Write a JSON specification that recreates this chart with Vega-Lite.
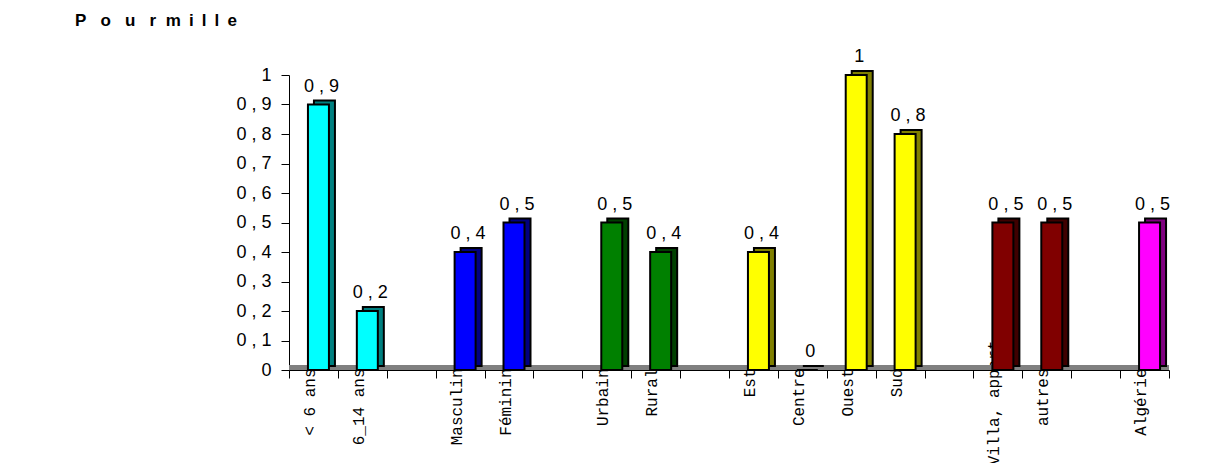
{
  "$schema": "https://vega.github.io/schema/vega-lite/v6.json",
  "width": 880,
  "height": 295,
  "autosize": {"type": "none"},
  "padding": {"left": 289, "top": 75, "right": 51, "bottom": 93},
  "background": "white",
  "title": {"text": "P\u00a0\u00a0\u00a0o\u00a0\u00a0\u00a0u\u00a0\u00a0\u00a0r\u00a0\u00a0m\u00a0\u2009i\u00a0\u2009l\u00a0\u2009l\u00a0\u2009e", "anchor": "start", "frame": "group", "dx": -214, "offset": 18, "font": "Liberation Sans", "fontSize": 17, "fontWeight": "bold", "color": "black"},
  "data": {"values": [
    {"cat": "< 6 ans", "value": 0.9, "label": "0 , 9", "group": "age"},
    {"cat": "6_14 ans", "value": 0.2, "label": "0 , 2", "group": "age"},
    {"cat": "Masculin", "value": 0.4, "label": "0 , 4", "group": "sexe"},
    {"cat": "Féminin", "value": 0.5, "label": "0 , 5", "group": "sexe"},
    {"cat": "Urbain", "value": 0.5, "label": "0 , 5", "group": "milieu"},
    {"cat": "Rural", "value": 0.4, "label": "0 , 4", "group": "milieu"},
    {"cat": "Est", "value": 0.4, "label": "0 , 4", "group": "region"},
    {"cat": "Centre", "value": 0, "label": "0", "group": "region"},
    {"cat": "Ouest", "value": 1, "label": "1", "group": "region"},
    {"cat": "Sud", "value": 0.8, "label": "0 , 8", "group": "region"},
    {"cat": "Villa, appart", "value": 0.5, "label": "0 , 5", "group": "habitat"},
    {"cat": "autres", "value": 0.5, "label": "0 , 5", "group": "habitat"},
    {"cat": "Algérie", "value": 0.5, "label": "0 , 5", "group": "total"}
  ]},
  "encoding": {
    "x": {"field": "cat", "type": "nominal", "sort": null,
      "scale": {"domain": ["< 6 ans", "6_14 ans", " ", "Masculin", "Féminin", "  ", "Urbain", "Rural", "   ", "Est", "Centre", "Ouest", "Sud", "    ", "Villa, appart", "autres", "     ", "Algérie"], "paddingInner": 0, "paddingOuter": 0},
      "axis": {"title": null, "tickBand": "extent", "labelAngle": 270, "labelAlign": "right", "labelBaseline": "middle", "labelFont": "Liberation Mono", "labelFontSize": 16, "labelColor": "black", "labelOffset": -4,
        "labelPadding": {"condition": {"test": "datum.value === 'Villa, appart'", "value": -38}, "value": -10},
        "tickSize": 8, "tickColor": "black", "domainColor": "black", "labelOverlap": false, "labelBound": false, "labelFlush": false, "grid": false}},
    "y": {"field": "value", "type": "quantitative",
      "scale": {"domain": [0, 1], "nice": false},
      "axis": {"title": null, "values": [0, 0.1, 0.2, 0.3, 0.4, 0.5, 0.6, 0.7, 0.8, 0.9, 1], "labelExpr": "replace(toString(datum.value), '.', ' , ')", "labelFont": "Liberation Sans", "labelFontSize": 18, "labelColor": "black", "labelPadding": 10, "tickSize": 8, "tickColor": "black", "domainColor": "black", "grid": false}}
  },
  "layer": [
    {"mark": {"type": "rule", "color": "#808080", "strokeWidth": 5, "yOffset": -2.5},
     "encoding": {"x": null, "y": {"datum": 0}}},
    {"mark": {"type": "bar", "width": 21, "xOffset": 11, "yOffset": -4, "y2Offset": -4, "stroke": "black", "strokeWidth": 2},
     "encoding": {"fill": {"field": "group", "type": "nominal", "legend": null,
       "scale": {"domain": ["age", "sexe", "milieu", "region", "habitat", "total"], "range": ["#008080", "#000080", "#004000", "#808000", "#400000", "#800080"]}}}},
    {"mark": {"type": "bar", "width": 21, "xOffset": 5, "stroke": "black", "strokeWidth": 2},
     "encoding": {"color": {"field": "group", "type": "nominal", "legend": null,
       "scale": {"domain": ["age", "sexe", "milieu", "region", "habitat", "total"], "range": ["#00FFFF", "#0000FF", "#008000", "#FFFF00", "#800000", "#FF00FF"]}}}},
    {"mark": {"type": "text", "font": "Liberation Sans", "fontSize": 18, "color": "black", "baseline": "alphabetic", "xOffset": 8, "dy": -13},
     "encoding": {"text": {"field": "label"}}}
  ],
  "config": {"view": {"stroke": null}}
}
